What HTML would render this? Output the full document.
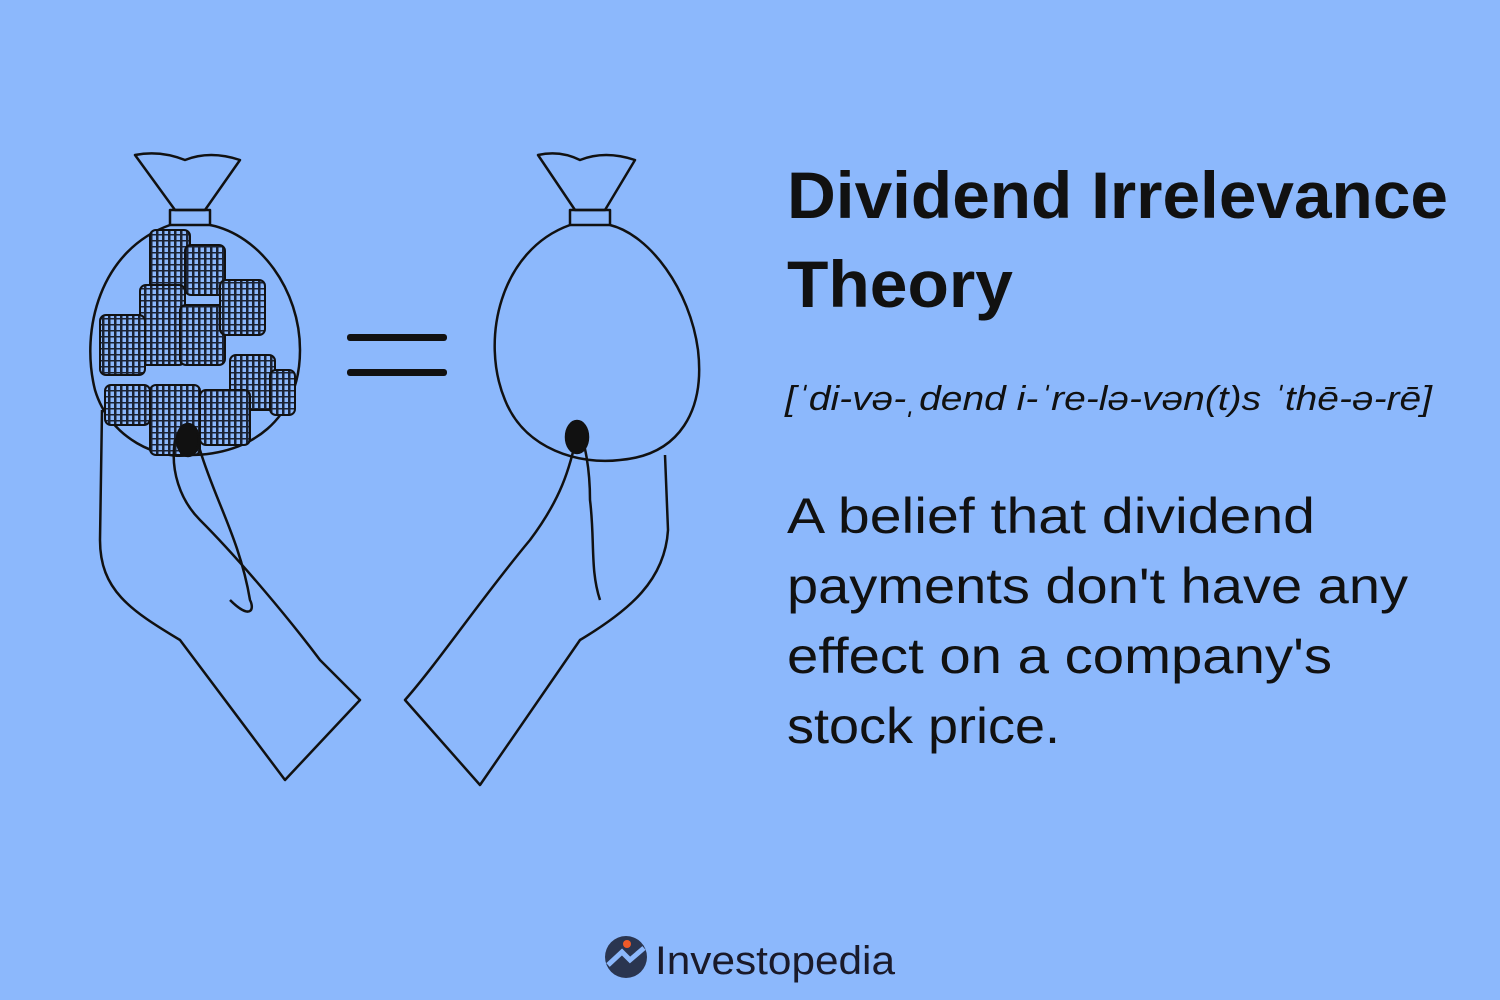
<!DOCTYPE html>
<html><head><meta charset="utf-8"><style>
html,body{margin:0;padding:0;background:#8cb8fc;}
svg{display:block;font-family:"Liberation Sans",sans-serif;}
</style></head><body>
<svg width="1500" height="1000" viewBox="0 0 1500 1000">
<defs>
<pattern id="coinpat" width="6" height="6" patternUnits="userSpaceOnUse">
<rect width="6" height="6" fill="#8cb8fc"/>
<rect width="2.5" height="6" fill="#1a2233"/>
<rect width="6" height="1.5" fill="#1a2233"/>
</pattern>
</defs>
<rect width="1500" height="1000" fill="#8cb8fc"/>
<g fill="none" stroke="#111" stroke-width="2.5" stroke-linejoin="round">
  <path d="M135 155 Q160 150 185 160 Q210 150 240 160 L205 210 L175 210 Z"/>
  <path d="M170 210 L210 210 L210 225 L170 225 Z"/>
  <path d="M170 225 C100 250 80 330 95 390 C110 440 160 460 190 455 C250 455 300 420 300 350 C300 290 260 235 210 225"/>
  <g fill="url(#coinpat)" stroke="#111" stroke-width="2">
    <rect x="150" y="230" width="40" height="60" rx="6"/>
    <rect x="185" y="245" width="40" height="50" rx="6"/>
    <rect x="140" y="285" width="45" height="80" rx="6"/>
    <rect x="180" y="305" width="45" height="60" rx="6"/>
    <rect x="220" y="280" width="45" height="55" rx="6"/>
    <rect x="100" y="315" width="45" height="60" rx="6"/>
    <rect x="230" y="355" width="45" height="55" rx="6"/>
    <rect x="105" y="385" width="45" height="40" rx="6"/>
    <rect x="150" y="385" width="50" height="70" rx="6"/>
    <rect x="200" y="390" width="50" height="55" rx="6"/>
    <rect x="270" y="370" width="25" height="45" rx="6"/>
  </g>
  <path d="M175 440 C170 470 180 500 200 520 C240 560 290 620 320 660 L360 700 L285 780 L180 640 C130 610 100 590 100 540 L102 410"/>
  <path d="M175 440 C185 430 195 435 200 450 C215 500 240 540 250 600 C255 610 250 620 230 600" />
  <ellipse cx="188" cy="440" rx="11" ry="16" fill="#111"/>
</g>
<g fill="#111">
  <rect x="347" y="334" width="100" height="7" rx="3"/>
  <rect x="347" y="369" width="100" height="7" rx="3"/>
</g>
<g fill="none" stroke="#111" stroke-width="2.5" stroke-linejoin="round">
  <path d="M538 155 Q560 150 580 160 Q605 150 635 160 L605 210 L575 210 Z"/>
  <path d="M570 210 L610 210 L610 225 L570 225 Z"/>
  <path d="M570 225 C500 250 480 340 505 400 C525 450 580 465 620 460 C680 455 705 410 698 350 C690 290 650 235 610 225"/>
  <path d="M578 430 C570 470 560 500 530 540 C480 600 440 660 405 700 L480 785 L580 640 C630 610 665 580 668 530 L665 455"/>
  <path d="M578 430 C585 440 590 470 590 500 C595 540 590 570 600 600" />
  <ellipse cx="577" cy="437" rx="11" ry="16" fill="#111"/>
</g>
<text x="787" y="218" font-size="66" font-weight="bold" fill="#111" textLength="661" lengthAdjust="spacingAndGlyphs">Dividend Irrelevance</text>
<text x="787" y="307" font-size="66" font-weight="bold" fill="#111" textLength="226" lengthAdjust="spacingAndGlyphs">Theory</text>
<text x="785" y="410" font-size="34" font-style="italic" fill="#111" textLength="647" lengthAdjust="spacingAndGlyphs">[ˈdi-və-ˌdend i-ˈre-lə-vən(t)s ˈthē-ə-rē]</text>
<g font-size="50" fill="#111">
  <text x="787" y="533" textLength="528" lengthAdjust="spacingAndGlyphs">A belief that dividend</text>
  <text x="787" y="603" textLength="621" lengthAdjust="spacingAndGlyphs">payments don't have any</text>
  <text x="787" y="673" textLength="545" lengthAdjust="spacingAndGlyphs">effect on a company's</text>
  <text x="787" y="743" textLength="273" lengthAdjust="spacingAndGlyphs">stock price.</text>
</g>
<g>
  <circle cx="626" cy="957" r="21" fill="#2a3550"/>
  <path d="M608 965 L622 952 L630 960 L644 948" stroke="#8cb8fc" stroke-width="5" fill="none"/>
  <circle cx="627" cy="944" r="4" fill="#f05a28"/>
  <text x="655" y="974" font-size="40" fill="#1a1a2a" textLength="240" lengthAdjust="spacingAndGlyphs">Investopedia</text>
</g>
</svg>
</body></html>
